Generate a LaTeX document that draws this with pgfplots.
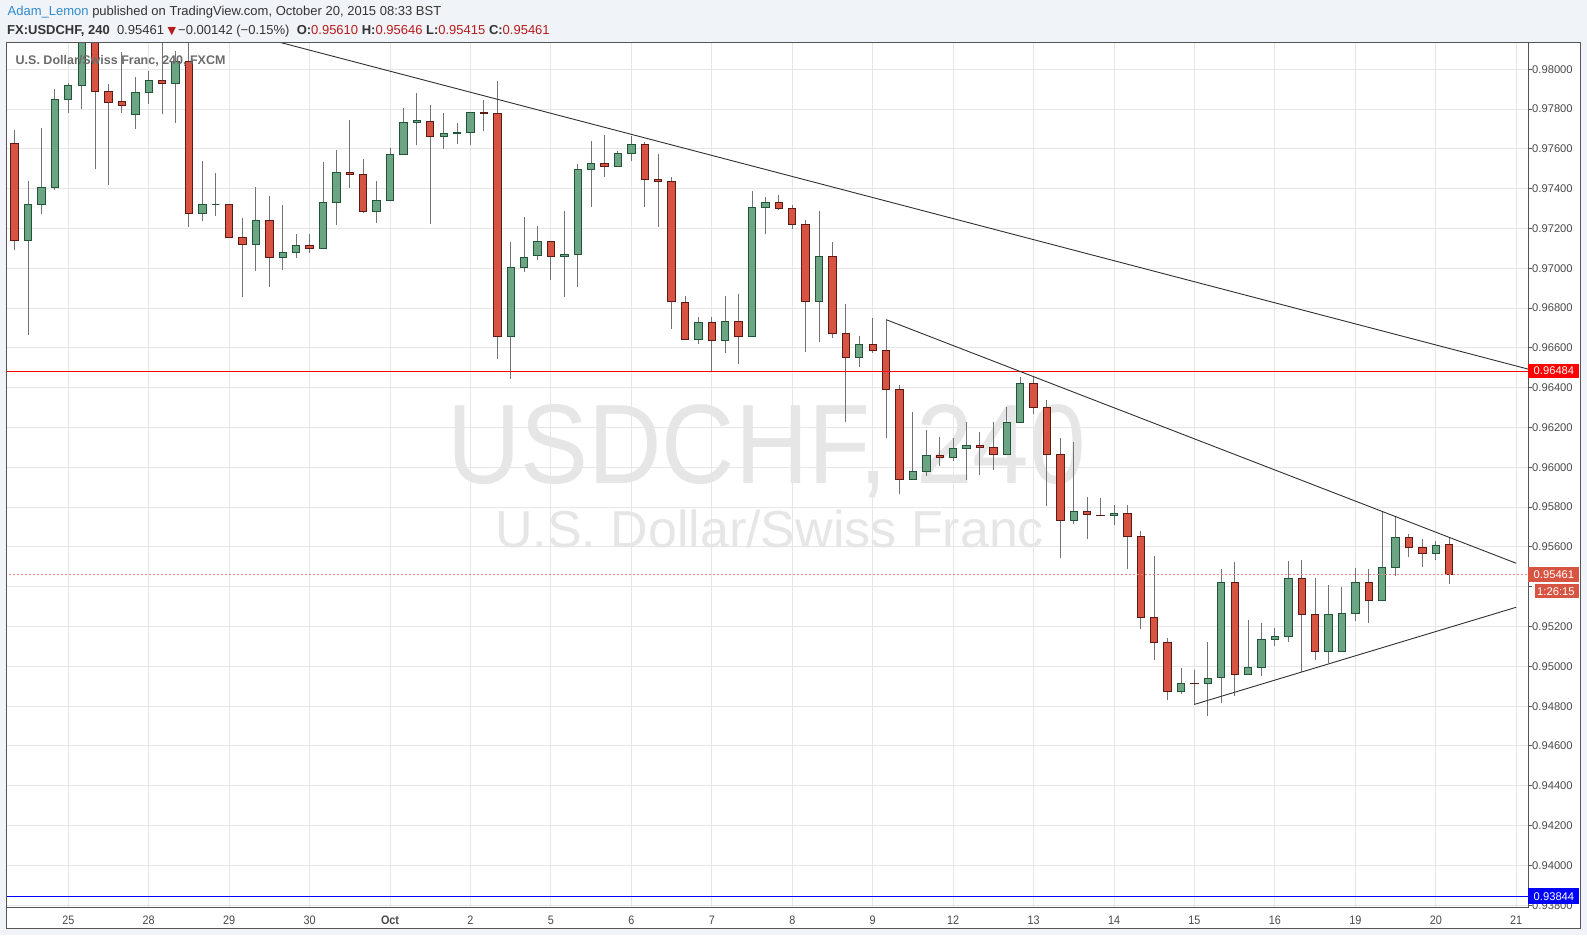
\documentclass[border=0pt]{standalone}
\usepackage{fontspec}
\setmainfont{Liberation Sans}
\newfontfamily\narrowfont[FakeStretch=0.88]{Liberation Sans}
\newfontfamily\wmfont[FakeStretch=0.9]{Liberation Sans}
\newfontfamily\symfont{DejaVu Sans}
\usepackage{pgfplots}
\usepackage{pgfplotstable}
\pgfplotsset{compat=1.18}

\definecolor{bgc}{HTML}{F0F3F7}
\definecolor{gridc}{HTML}{E6E6E6}
\definecolor{wmc}{HTML}{E6E6E6}
\definecolor{grnf}{HTML}{6BA583}
\definecolor{grnd}{HTML}{225437}
\definecolor{redf}{HTML}{D75442}
\definecolor{redd}{HTML}{5B1A13}
\definecolor{wickc}{HTML}{737375}
\definecolor{framec}{HTML}{555555}
\definecolor{txtc}{HTML}{4A4A4A}
\definecolor{labred}{HTML}{FF0000}
\definecolor{lastc}{HTML}{D75442}
\definecolor{labblue}{HTML}{0000FF}
\definecolor{userc}{HTML}{2F8BCB}
\definecolor{valred}{HTML}{B71C1C}
\definecolor{trendc}{HTML}{303030}
\definecolor{hdrc}{HTML}{333333}

\pgfplotsset{
  grnc/.style={draw=grnd, fill=grnf, line width=1pt, line join=miter},
  redc/.style={draw=redd, fill=redf, line width=1pt, line join=miter},
}

\pgfplotstableread{
i O H L C
-4 0.97628 0.97695 0.97091 0.97138
-3 0.97138 0.97438 0.96667 0.97321
-2 0.97321 0.97703 0.97274 0.97407
-1 0.97407 0.97899 0.97393 0.97849
0 0.97849 0.97930 0.97782 0.97920
1 0.97920 0.98200 0.97802 0.98150
2 0.98160 0.98220 0.97497 0.97888
3 0.97889 0.97926 0.97420 0.97834
4 0.97836 0.98089 0.97782 0.97819
5 0.97774 0.97961 0.97702 0.97884
6 0.97884 0.97993 0.97827 0.97945
7 0.97945 0.98150 0.97777 0.97930
8 0.97930 0.98092 0.97732 0.98039
9 0.98039 0.98150 0.97209 0.97276
10 0.97276 0.97539 0.97239 0.97321
11 0.97321 0.97477 0.97264 0.97321
12 0.97321 0.97321 0.97152 0.97155
13 0.97155 0.97251 0.96857 0.97120
14 0.97120 0.97408 0.96987 0.97241
15 0.97241 0.97363 0.96907 0.97054
16 0.97054 0.97318 0.96992 0.97080
17 0.97080 0.97172 0.97053 0.97115
18 0.97115 0.97172 0.97078 0.97098
19 0.97100 0.97534 0.97100 0.97331
20 0.97331 0.97594 0.97219 0.97482
21 0.97482 0.97745 0.97405 0.97472
22 0.97472 0.97549 0.97279 0.97286
23 0.97286 0.97438 0.97229 0.97341
24 0.97341 0.97604 0.97341 0.97572
25 0.97574 0.97805 0.97574 0.97735
26 0.97733 0.97880 0.97617 0.97741
27 0.97740 0.97822 0.97222 0.97664
28 0.97664 0.97782 0.97597 0.97679
29 0.97679 0.97731 0.97627 0.97684
30 0.97684 0.97785 0.97617 0.97785
31 0.97783 0.97847 0.97688 0.97778
32 0.97778 0.97943 0.96546 0.96657
33 0.96657 0.97131 0.96445 0.97005
34 0.97005 0.97260 0.96979 0.97056
35 0.97064 0.97213 0.97042 0.97136
36 0.97136 0.97136 0.96942 0.97061
37 0.97061 0.97289 0.96858 0.97071
38 0.97071 0.97525 0.96908 0.97498
39 0.97498 0.97641 0.97310 0.97528
40 0.97528 0.97671 0.97461 0.97513
41 0.97513 0.97590 0.97513 0.97579
42 0.97579 0.97666 0.97537 0.97624
43 0.97624 0.97637 0.97310 0.97448
44 0.97448 0.97575 0.97210 0.97438
45 0.97438 0.97458 0.96697 0.96831
46 0.96829 0.96861 0.96643 0.96643
47 0.96643 0.96756 0.96621 0.96729
48 0.96729 0.96756 0.96481 0.96638
49 0.96638 0.96861 0.96576 0.96734
50 0.96734 0.96871 0.96521 0.96658
51 0.96658 0.97389 0.96653 0.97307
52 0.97307 0.97359 0.97170 0.97332
53 0.97332 0.97369 0.97295 0.97302
54 0.97302 0.97319 0.97195 0.97222
55 0.97220 0.97245 0.96580 0.96833
56 0.96833 0.97287 0.96630 0.97059
57 0.97059 0.97131 0.96650 0.96672
58 0.96672 0.96823 0.96228 0.96551
59 0.96551 0.96658 0.96504 0.96617
60 0.96617 0.96749 0.96575 0.96586
61 0.96586 0.96742 0.96147 0.96390
62 0.96390 0.96412 0.95866 0.95938
63 0.95938 0.96276 0.95938 0.95978
64 0.95978 0.96186 0.95956 0.96058
65 0.96058 0.96151 0.96006 0.96048
66 0.96048 0.96146 0.96032 0.96094
67 0.96094 0.96226 0.95936 0.96109
68 0.96109 0.96176 0.95961 0.96099
69 0.96099 0.96226 0.95988 0.96063
70 0.96063 0.96301 0.96063 0.96224
71 0.96224 0.96454 0.96224 0.96420
72 0.96420 0.96454 0.96268 0.96299
73 0.96299 0.96336 0.95805 0.96063
74 0.96063 0.96145 0.95543 0.95731
75 0.95731 0.96125 0.95714 0.95776
76 0.95776 0.95853 0.95639 0.95761
77 0.95760 0.95848 0.95758 0.95758
78 0.95756 0.95813 0.95709 0.95766
79 0.95766 0.95813 0.95488 0.95651
80 0.95651 0.95682 0.95186 0.95248
81 0.95248 0.95557 0.95032 0.95122
82 0.95122 0.95144 0.94829 0.94876
83 0.94876 0.94993 0.94859 0.94916
84 0.94916 0.94983 0.94807 0.94914
85 0.94916 0.95124 0.94750 0.94941
86 0.94945 0.95490 0.94818 0.95423
87 0.95423 0.95525 0.94853 0.94960
88 0.94960 0.95233 0.94960 0.94995
89 0.94995 0.95217 0.94953 0.95136
90 0.95136 0.95191 0.95104 0.95151
91 0.95151 0.95530 0.95123 0.95443
92 0.95443 0.95535 0.94973 0.95262
93 0.95262 0.95445 0.95032 0.95076
94 0.95076 0.95408 0.95015 0.95262
95 0.95076 0.95399 0.95076 0.95267
96 0.95267 0.95495 0.95230 0.95423
97 0.95423 0.95490 0.95220 0.95332
98 0.95332 0.95775 0.95326 0.95498
99 0.95498 0.95750 0.95456 0.95649
100 0.95649 0.95666 0.95547 0.95599
101 0.95599 0.95641 0.95497 0.95569
102 0.95569 0.95631 0.95532 0.95609
103 0.95610 0.95646 0.95415 0.95461
}\candles

\pgfplotstablegetrowsof{\candles}
\pgfmathtruncatemacro{\lastrow}{\pgfplotsretval-1}

\begin{document}
\begin{tikzpicture}[x=1pt,y=1pt]
\fill[bgc] (0,0) rectangle (1587,935);
\useasboundingbox (0,0) rectangle (1587,935);
\fill[white] (6.7,7) rectangle (1580,892);
% watermark
\node[anchor=base, inner sep=0pt, text=wmc, font=\wmfont\fontsize{113}{120}\selectfont] at (766.5,451) {USDCHF, 240};
\node[anchor=base, inner sep=0pt, text=wmc, font=\fontsize{52}{56}\selectfont] at (769.5,387) {U.S. Dollar/Swiss Franc};

\begin{axis}[
  at={(6.7pt,28pt)}, anchor=south west,
  width=1521.3pt, height=864pt, scale only axis,
  xmin=-4.595, xmax=108.88, ymin=0.93791, ymax=0.98132,
  axis line style={draw=framec, line width=1pt},
  xmajorgrids, ymajorgrids,
  grid style={draw=gridc, line width=1pt},
  xtick={0,6,...,108},
  xticklabels={25,28,29,30,\textbf{Oct},2,5,6,7,8,9,12,13,14,15,16,19,20,21},
  ytick={0.938,0.940,0.942,0.944,0.946,0.948,0.950,0.952,0.954,0.956,0.958,0.960,0.962,0.964,0.966,0.968,0.970,0.972,0.974,0.976,0.978,0.980},
  yticklabels={0.93800,0.94000,0.94200,0.94400,0.94600,0.94800,0.95000,0.95200,{},0.95600,0.95800,0.96000,0.96200,0.96400,0.96600,0.96800,0.97000,0.97200,0.97400,0.97600,0.97800,0.98000},
  ytick pos=right, yticklabel pos=right,
  tick align=outside, major tick length=4pt,
  ytick style={draw=framec, line width=1pt},
  xtick style={draw=none},
  yticklabel style={font=\fontsize{11.2}{12}\selectfont, text=txtc, inner sep=0pt},
  xticklabel style={font=\narrowfont\fontsize{12.3}{14}\selectfont, text=txtc, anchor=base, yshift=-13.3pt},
]
\pgfplotsforeachungrouped \rr in {0,...,\lastrow}{%
  \pgfplotstablegetelem{\rr}{i}\of\candles \let\ci\pgfplotsretval
  \pgfplotstablegetelem{\rr}{O}\of\candles \let\co\pgfplotsretval
  \pgfplotstablegetelem{\rr}{H}\of\candles \let\ch\pgfplotsretval
  \pgfplotstablegetelem{\rr}{L}\of\candles \let\cl\pgfplotsretval
  \pgfplotstablegetelem{\rr}{C}\of\candles \let\cc\pgfplotsretval
  \pgfmathsetmacro\xa{\ci-0.275}%
  \pgfmathsetmacro\xb{\ci+0.275}%
  \ifdim\cc pt<\co pt
    \let\lo\cc \let\hi\co \def\cst{redc}%
  \else
    \let\lo\co \let\hi\cc \def\cst{grnc}%
  \fi
  \edef\doplot{\noexpand\addplot[wickc, line width=1pt] coordinates {(\ci,\cl) (\ci,\ch)};%
    \noexpand\addplot[\cst] coordinates {(\xa,\lo) (\xb,\lo) (\xb,\hi) (\xa,\hi)} -- cycle;}%
  \doplot
}
% horizontal levels
\addplot[labred, line width=1pt] coordinates {(-5,0.96484) (110,0.96484)};
\addplot[labblue, line width=1pt] coordinates {(-5,0.93844) (110,0.93844)};
\addplot[lastc!70, line width=0.7pt, dash pattern=on 2pt off 2pt] coordinates {(-5,0.95461) (110,0.95461)};
% trend lines
\addplot[trendc, line width=0.9pt] coordinates {(15,0.98149) (110,0.96474)};
\addplot[trendc, line width=0.9pt] coordinates {(61,0.96742) (108,0.95518)};
\addplot[trendc, line width=0.9pt] coordinates {(84,0.94809) (108,0.95297)};
\coordinate (rl) at (axis cs:108.88,0.96484);
\coordinate (pl) at (axis cs:108.88,0.95461);
\coordinate (bl) at (axis cs:108.88,0.93844);
\end{axis}

% outer frame
\draw[framec, line width=1pt] (6.7,7) rectangle (1580,892);

% price labels
\fill[labred] ([yshift=-7pt]rl) rectangle ([xshift=50.5pt,yshift=7pt]rl);
\node[anchor=west, inner sep=0pt, text=white, font=\fontsize{11.2}{12}\selectfont] at ([xshift=5.5pt]rl) {0.96484};
\fill[lastc] ([yshift=-7.5pt]pl) rectangle ([xshift=50.5pt,yshift=7.5pt]pl);
\node[anchor=west, inner sep=0pt, text=white, font=\fontsize{11.2}{12}\selectfont] at ([xshift=5.5pt]pl) {0.95461};
\fill[lastc] ([xshift=7pt,yshift=-23.7pt]pl) rectangle ([xshift=50.5pt,yshift=-9.7pt]pl);
\node[anchor=west, inner sep=0pt, text=white, font=\fontsize{11.2}{12}\selectfont] at ([xshift=9pt,yshift=-16.7pt]pl) {1:26:15};
\fill[labblue] ([yshift=-8pt]bl) rectangle ([xshift=51pt,yshift=8pt]bl);
\node[anchor=west, inner sep=0pt, text=white, font=\fontsize{11.2}{12}\selectfont] at ([xshift=5.5pt]bl) {0.93844};

% overlay title
\node[anchor=base west, inner sep=0pt, text=black!58, font=\bfseries\fontsize{12.5}{14}\selectfont] at (15.5,870) {U.S. Dollar/Swiss Franc, 240, FXCM};

% header
\node[anchor=base west, inner sep=0pt, text=hdrc, font=\fontsize{13}{15}\selectfont] at (7.5,919) {\textcolor{userc}{Adam\_Lemon} published on TradingView.com, October 20, 2015 08:33 BST};
\node[anchor=base west, inner sep=0pt, text=hdrc, font=\fontsize{13}{15}\selectfont] at (7,900.5) {\textbf{FX:USDCHF, 240}\ \ 0.95461 {\symfont\fontsize{11}{13}\selectfont\textcolor{valred}{▼}}\,−0.00142 (−0.15\%)\ \ \textbf{O:}\textcolor{valred}{0.95610} \textbf{H:}\textcolor{valred}{0.95646} \textbf{L:}\textcolor{valred}{0.95415} \textbf{C:}\textcolor{valred}{0.95461}};
\end{tikzpicture}
\end{document}
